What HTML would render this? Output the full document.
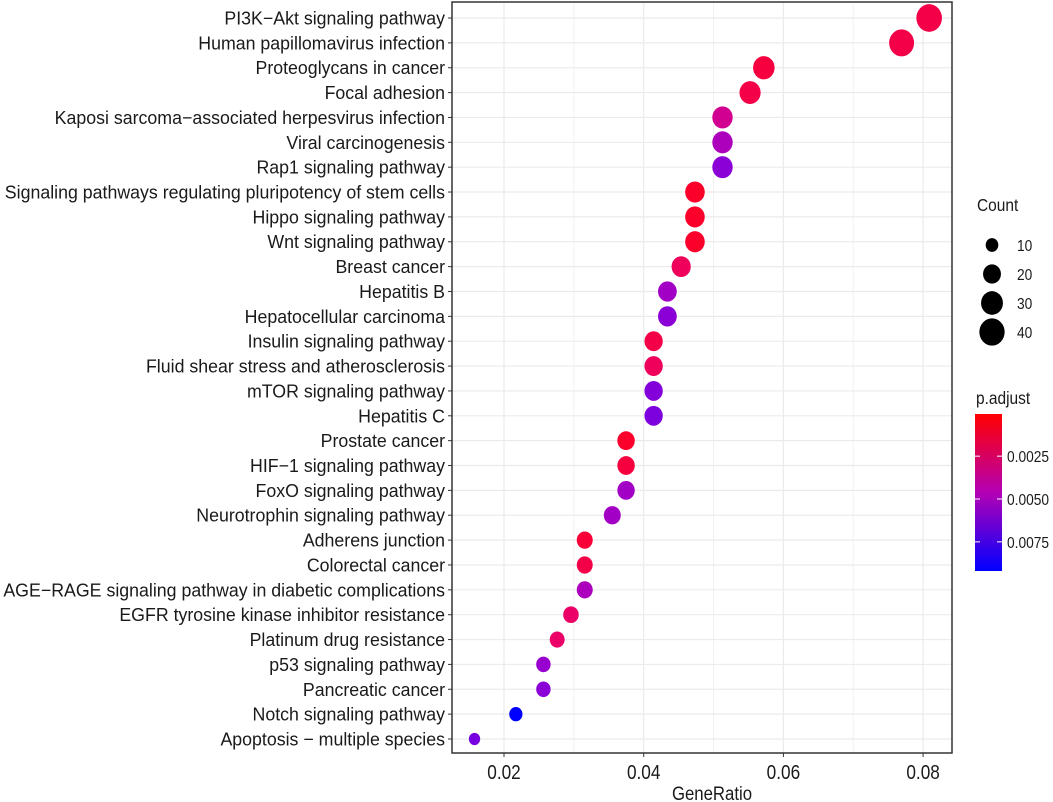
<!DOCTYPE html>
<html><head><meta charset="utf-8"><style>
html,body{margin:0;padding:0;background:#fff}
svg{display:block;font-family:"Liberation Sans",Arial,sans-serif}
</style></head><body>
<svg id="chart" width="1053" height="802" viewBox="0 0 1053 802">
<defs><linearGradient id="pgrad" x1="0" y1="0" x2="0" y2="1">
<stop offset="0" stop-color="#ff0000"/><stop offset="0.5" stop-color="#b400b4"/><stop offset="1" stop-color="#0000ff"/></linearGradient></defs>
<g id="grid"></g><g id="dots"></g><g id="ylabels"></g><g id="xaxis"></g><g id="legend"></g>
</svg>
<script>
const categories=["PI3K\u2212Akt signaling pathway","Human papillomavirus infection","Proteoglycans in cancer","Focal adhesion","Kaposi sarcoma\u2212associated herpesvirus infection","Viral carcinogenesis","Rap1 signaling pathway","Signaling pathways regulating pluripotency of stem cells","Hippo signaling pathway","Wnt signaling pathway","Breast cancer","Hepatitis B","Hepatocellular carcinoma","Insulin signaling pathway","Fluid shear stress and atherosclerosis","mTOR signaling pathway","Hepatitis C","Prostate cancer","HIF\u22121 signaling pathway","FoxO signaling pathway","Neurotrophin signaling pathway","Adherens junction","Colorectal cancer","AGE\u2212RAGE signaling pathway in diabetic complications","EGFR tyrosine kinase inhibitor resistance","Platinum drug resistance","p53 signaling pathway","Pancreatic cancer","Notch signaling pathway","Apoptosis \u2212 multiple species"];
const counts=[41,39,29,28,26,26,26,24,24,24,23,22,22,21,21,21,21,19,19,19,18,16,16,16,15,14,13,13,11,8];
const geneTotal=507;
const padjust=[0.0008,0.0008,0.0006,0.0008,0.003,0.005,0.0065,0.0003,0.0003,0.0003,0.0012,0.0055,0.0065,0.0008,0.0012,0.0068,0.007,0.0003,0.0006,0.0055,0.0055,0.0005,0.0008,0.005,0.0015,0.0015,0.006,0.0065,0.0092,0.0072];
const xTicks=[0.02,0.04,0.06,0.08];
const xMinor=[0.01,0.03,0.05,0.07,0.09];
const sizeLegend=[10,20,30,40];
const colorTicks=[0.0025,0.0050,0.0075];
const NS="http://www.w3.org/2000/svg";
const PL=452,PR=952,PT=2,PB=753;
const SX=0.86;
function xs(v){return 504+(v-0.02)*6985;}
function ys(i){return 18+i*(739-18)/(categories.length-1);}
function rs(c){return 2*Math.sqrt(c);}
const pMin=0.00004,pMax=0.0092;
function pcol(p){let t=(p-pMin)/(pMax-pMin);t=Math.max(0,Math.min(1,t));return `rgb(${Math.round(255*Math.sqrt(1-t))},0,${Math.round(255*Math.sqrt(t))})`;}
function mk(tag,attrs,parent){const e=document.createElementNS(NS,tag);for(const k in attrs)e.setAttribute(k,attrs[k]);parent.appendChild(e);return e;}
function txt(x,y,s,size,anchor,parent){const t=mk('text',{x:0,y:0,'text-anchor':anchor,'font-size':size,fill:'#1a1a1a',transform:`translate(${x},${y}) scale(${SX},1)`},parent);t.textContent=s;return t;}
const grid=document.getElementById('grid'),dots=document.getElementById('dots'),yl=document.getElementById('ylabels'),xa=document.getElementById('xaxis'),lg=document.getElementById('legend');
xMinor.forEach(v=>{const x=xs(v);if(x>PL&&x<PR){const l=mk('line',{x1:x,x2:x,y1:PT,y2:PB,stroke:'#f2f2f2','stroke-width':1},grid);

}});
xTicks.forEach(v=>{const x=xs(v);const l=mk('line',{x1:x,x2:x,y1:PT,y2:PB,stroke:'#ebebeb','stroke-width':1.2},grid);

});
categories.forEach((c,i)=>{const y=ys(i);const l=mk('line',{x1:PL,x2:PR,y1:y,y2:y,stroke:'#ebebeb','stroke-width':1.2},grid);

});
categories.forEach((c,i)=>{const y=ys(i);const r=rs(counts[i]);
const e=mk('ellipse',{cx:xs(counts[i]/geneTotal),cy:y,rx:r,ry:r*1.08,fill:pcol(padjust[i])},dots);


const t=mk('text',{x:0,y:y+6.5,'text-anchor':'end','font-size':18.5,fill:'#1a1a1a'},yl);t.textContent=c;


const tk=mk('line',{x1:PL-4,x2:PL,y1:y,y2:y,stroke:'#333','stroke-width':1},grid);

});
const border=mk('rect',{x:PL,y:PT,width:PR-PL,height:PB-PT,fill:'none',stroke:'#333','stroke-width':1.5},xa);


xTicks.forEach(v=>{const x=xs(v);const tk=mk('line',{x1:x,x2:x,y1:PB,y2:PB+4,stroke:'#333'},xa);


const t=txt(x,779,v.toFixed(2),20,'middle',xa);

});
const xt=txt((PL+PR)/2+10,800,'GeneRatio',19.5,'middle',xa);


let maxW=0;yl.querySelectorAll('text').forEach(t=>{maxW=Math.max(maxW,t.getComputedTextLength());});
const sx=maxW>0?442/maxW:1;yl.setAttribute('transform',`translate(445,0) scale(${sx},1)`);
const ct=txt(977,211,'Count',18,'start',lg);


sizeLegend.forEach((c,i)=>{const y=245+i*29;const r=rs(c);
const e=mk('ellipse',{cx:992,cy:y,rx:r,ry:r*1.08,fill:'#000'},lg);


const t=txt(1017,y+6,String(c),16,'start',lg);

});
const pt=txt(976,404,'p.adjust',18,'start',lg);


const cb=mk('rect',{x:975,y:414,width:27,height:157,fill:'url(#pgrad)'},lg);


function cy(p){return 414+(p-pMin)/(pMax-pMin)*157;}
colorTicks.forEach(p=>{const y=cy(p);
mk('line',{x1:975,x2:980,y1:y,y2:y,stroke:'#fff','stroke-width':1},lg);
mk('line',{x1:997,x2:1002,y1:y,y2:y,stroke:'#fff','stroke-width':1},lg);
const t=txt(1007,y+6,p.toFixed(4),16,'start',lg);

});
</script>
</body></html>
